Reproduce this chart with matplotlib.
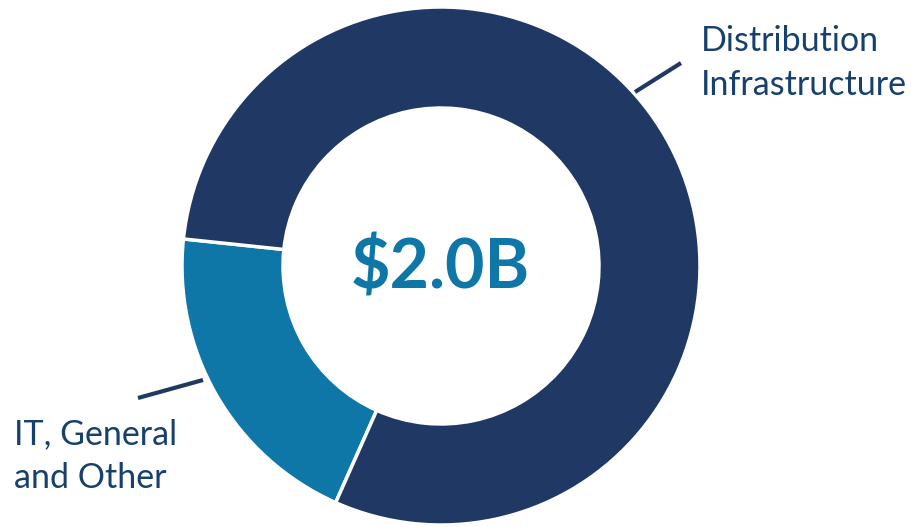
import matplotlib.pyplot as plt

# spend split, share of total
segments = ['IT, General\nand Other', 'Distribution\nInfrastructure']
shares = [20, 80]
colors = ['#0f76a8', '#203864']
total_label = '$2.0B'

W, H = 912, 527
fig = plt.figure(figsize=(W / 100, H / 100), dpi=100)
ax = fig.add_axes([0, 0, 1, 1])

cx, cy, r = 441, H - 266, 259
ax.pie(shares, colors=colors, startangle=174, counterclock=True,
       center=(cx, cy), radius=r,
       wedgeprops=dict(width=r * 0.39, edgecolor='white', linewidth=2.5))
ax.set_xlim(0, W)
ax.set_ylim(0, H)
ax.set_aspect('equal')
ax.axis('off')

font = 'Lato'
text_color = '#17406d'

ax.text(cx - 1, cy - 2, total_label.replace('$', r'\$'), ha='center', va='center',
        fontsize=49, fontweight='bold', color='#0f76a8', family=font)

# leader lines
ax.plot([635, 681], [H - 92, H - 63], color='#203864', lw=3, solid_capstyle='butt')
ax.plot([138, 203], [H - 398, H - 380], color='#203864', lw=3, solid_capstyle='butt')

# segment labels
for i, line in enumerate(segments[1].split('\n')):
    ax.text(701, H - 51 - i * 44, line, ha='left', va='baseline',
            fontsize=24.5, color=text_color, family=font)
for i, line in enumerate(segments[0].split('\n')):
    ax.text(14, H - 444 - i * 44, line, ha='left', va='baseline',
            fontsize=24.5, color=text_color, family=font)

fig.savefig('out.png', dpi=100)
